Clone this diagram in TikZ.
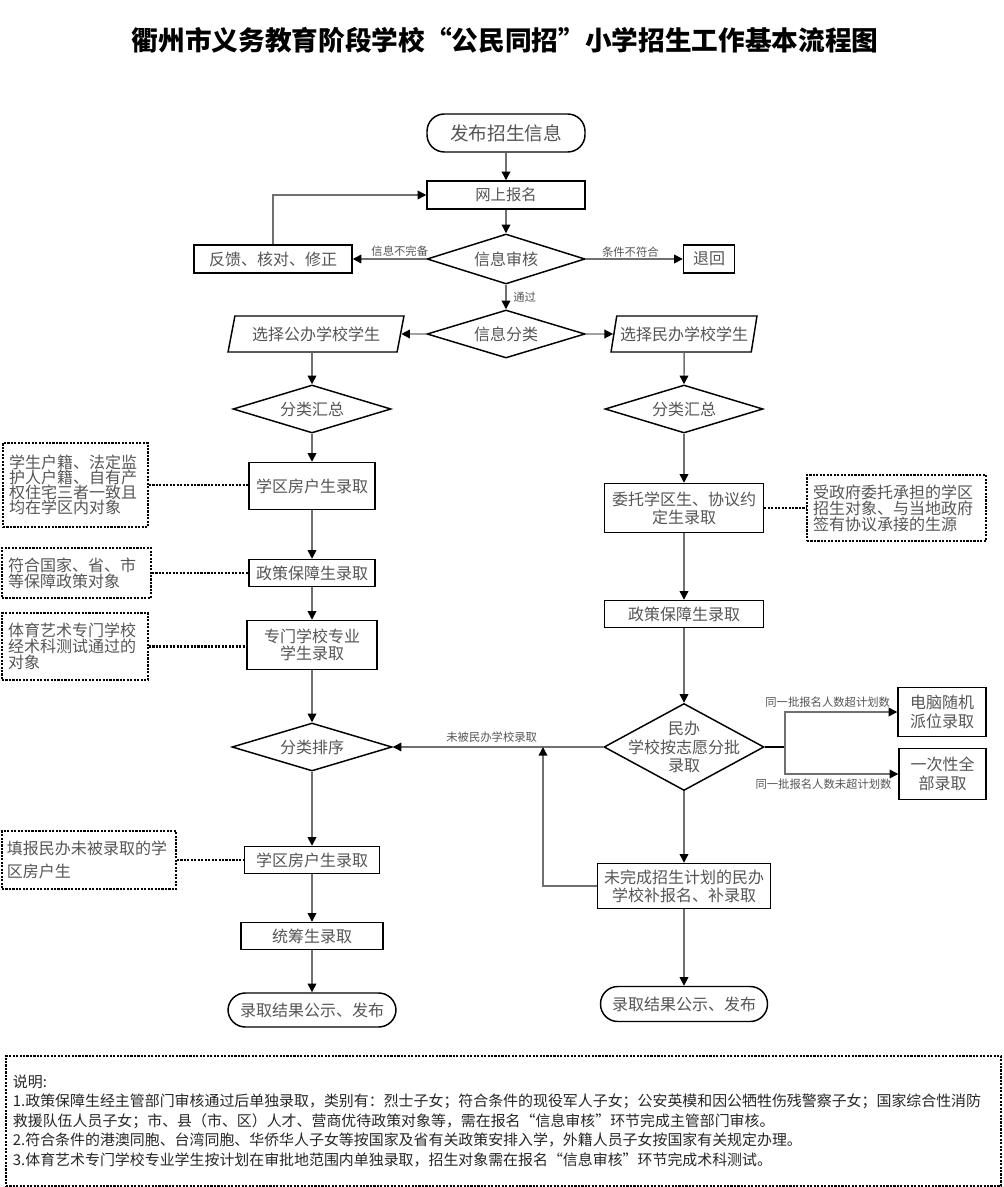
\documentclass[tikz,border=0pt]{standalone}
\usepackage{fontspec}
\setmainfont{Noto Sans CJK SC}
\usetikzlibrary{shapes.geometric,arrows.meta,positioning}
\definecolor{txtgray}{HTML}{555555}
\definecolor{lngray}{HTML}{707070}
\newdimen\pxu \pxu=0.75pt
\tikzset{
  base/.style={font=\fontsize{12}{13.5}\selectfont, text=txtgray, align=center, inner sep=0pt},
  box/.style={base, draw=black, line width=1.1pt, fill=white},
  term/.style={box, rounded corners=13pt},
  dec/.style={base, diamond, aspect=3, draw=black, line width=1.1pt, fill=white},
  io/.style={base, trapezium, trapezium left angle=70, trapezium right angle=110,
    trapezium stretches=true, draw=black, line width=1.1pt, fill=white},
  note/.style={base, draw=black, line width=1.4pt, dash pattern=on 1.6pt off 1pt,
    align=left, inner xsep=6\pxu, text width=#1},
  note/.default=100pt,
  arr/.style={draw=lngray, line width=1.1pt, -{Triangle[length=6.5pt,width=6.5pt,color=black]}},
  link/.style={draw=black, line width=1.6pt, dash pattern=on 1.6pt off 1pt},
  lab/.style={font=\fontsize{8.5}{9}\selectfont, text=txtgray, inner sep=1pt},
}

\begin{document}
\begin{tikzpicture}[x=0.75pt,y=-0.75pt]
\useasboundingbox (0,0) rectangle (1003,1187);

% title
\node[font=\fontsize{20}{22}\selectfont\bfseries] (title) at (505,40)
  {衢州市义务教育阶段学校“公民同招”小学招生工作基本流程图};

% registration and checking
\node[term, minimum width=158\pxu, minimum height=38\pxu, font=\fontsize{14}{16}\selectfont] (pub) at (506,133) {发布招生信息};
\node[box, minimum width=158\pxu, minimum height=28\pxu, font=\fontsize{11.5}{13}\selectfont] (reg) at (506,195) {网上报名};
\node[dec, minimum width=158\pxu, minimum height=50\pxu] (chk) at (506,259) {信息审核};
\node[box, minimum width=158\pxu, minimum height=28\pxu] (fb) at (273,259) {反馈、核对、修正};
\node[box, minimum width=51\pxu, minimum height=28\pxu] (ret) at (709,259) {退回};
\node[dec, minimum width=158\pxu, minimum height=48\pxu] (cls) at (506,334) {信息分类};
\node[io, minimum width=176\pxu, minimum height=36\pxu] (pubsel) at (316,334) {选择公办学校学生};
\node[io, minimum width=146\pxu, minimum height=36\pxu] (prisel) at (684,334) {选择民办学校学生};

\draw[arr] (pub) -- (reg);
\draw[arr] (reg) -- (chk);
\draw[arr] (chk) -- node[lab, above, pos=0.36] {信息不完备} (fb);
\draw[arr] (fb) |- (reg);
\draw[arr] (chk) -- node[lab, above, pos=0.46] {条件不符合} (ret);
\draw[arr] (chk) -- node[lab, right=4pt] {通过} (cls);
\draw[arr] (cls) -- (pubsel);
\draw[arr] (cls) -- (prisel);

% public schools
\node[dec, minimum width=158\pxu, minimum height=48\pxu] (lsum) at (312,409) {分类汇总};
\node[box, minimum width=126\pxu, minimum height=47\pxu] (lhouse) at (312,486) {学区房户生录取};
\node[box, minimum width=126\pxu, minimum height=27\pxu] (lpol) at (312,573) {政策保障生录取};
\node[box, minimum width=130\pxu, minimum height=49\pxu, font=\fontsize{12}{13}\selectfont] (lspec) at (312,645) {专门学校专业\\学生录取};
\node[dec, minimum width=160\pxu, minimum height=48\pxu] (lsort) at (312,747) {分类排序};
\node[box, minimum width=135\pxu, minimum height=27\pxu] (lhouse2) at (312,860) {学区房户生录取};
\node[box, minimum width=142\pxu, minimum height=27\pxu] (lcoord) at (312,936) {统筹生录取};
\node[term, minimum width=168\pxu, minimum height=34\pxu] (lres) at (312,1010) {录取结果公示、发布};

\node[note=133\pxu, minimum height=84\pxu, font=\fontsize{12}{11.3}\selectfont] (n1) at (75.5,485)
  {学生户籍、法定监\\护人户籍、自有产\\权住宅三者一致且\\均在学区内对象};
\node[note=137\pxu, minimum height=50\pxu, font=\fontsize{12}{12}\selectfont] (n2) at (76.5,573)
  {符合国家、省、市\\等保障政策对象};
\node[note=134\pxu, minimum height=67\pxu, font=\fontsize{12}{11}\selectfont] (n3) at (75,646.5)
  {体育艺术专门学校\\经术科测试通过的\\对象};
\node[note=164\pxu, minimum height=58\pxu, inner xsep=5\pxu, font=\fontsize{12}{17}\selectfont] (n4) at (89,860)
  {填报民办未被录取的学\\区房户生};

\draw[arr] (pubsel.south -| lsum.north) -- (lsum);
\draw[arr] (lsum) -- (lhouse);
\draw[arr] (lhouse) -- (lpol);
\draw[arr] (lpol) -- (lspec);
\draw[arr] (lspec) -- (lsort);
\draw[arr] (lsort) -- (lhouse2);
\draw[arr] (lhouse2) -- (lcoord);
\draw[arr] (lcoord) -- (lres);
\draw[link] (n1) -- (n1 -| lhouse.west);
\draw[link] (n2) -- (n2 -| lpol.west);
\draw[link] (n3) -- (n3 -| lspec.west);
\draw[link] (n4) -- (n4 -| lhouse2.west);

% private schools
\node[dec, minimum width=158\pxu, minimum height=48\pxu] (rsum) at (684,409) {分类汇总};
\node[box, minimum width=159\pxu, minimum height=49\pxu, font=\fontsize{12}{13.5}\selectfont] (rent) at (684,508) {委托学区生、协议约\\定生录取};
\node[note=167\pxu, minimum height=66\pxu, font=\fontsize{12}{12}\selectfont] (n5) at (896.5,508)
  {受政府委托承担的学区\\招生对象、与当地政府\\签有协议承接的生源};
\node[box, minimum width=159\pxu, minimum height=27\pxu] (rpol) at (684,614) {政策保障生录取};
\node[dec, minimum width=160\pxu, minimum height=87\pxu] (rbat) at (684,747) {};
\node[base, font=\fontsize{12}{14}\selectfont] (rbattxt) at (rbat) {民办\\学校按志愿分批\\录取};
\node[box, minimum width=88\pxu, minimum height=49\pxu, font=\fontsize{12}{14}\selectfont] (rrand) at (942,712) {电脑随机\\派位录取};
\node[box, minimum width=87\pxu, minimum height=51\pxu, font=\fontsize{12}{14}\selectfont] (rall) at (942.5,774) {一次性全\\部录取};
\node[box, minimum width=173\pxu, minimum height=45\pxu, font=\fontsize{12}{13.5}\selectfont] (rsup) at (684,886) {未完成招生计划的民办\\学校补报名、补录取};
\node[term, minimum width=167\pxu, minimum height=35\pxu] (rres) at (684,1004) {录取结果公示、发布};

\draw[arr] (prisel) -- (rsum);
\draw[arr] (rsum) -- (rent);
\draw[arr] (rent) -- (rpol);
\draw[arr] (rpol) -- (rbat);
\draw[arr] (rbat) -- (rsup);
\draw[arr] (rsup) -- (rres);
\draw[link] (rent) -- (rent -| n5.west);

\draw[arr] (rbat) -- node[lab, above=2pt, pos=0.53] {未被民办学校录取} (lsort);
\coordinate (up) at (543,747);
\draw[arr] (rsup) -| (up);
\coordinate (br) at (785,747);
\draw[line width=1.4pt] (rbat) -- (br);
\draw[arr] (br) |- node[lab, above=2pt, pos=0.69] {同一批报名人数超计划数} (rrand);
\draw[arr] (br) |- node[lab, below=2pt, pos=0.67] {同一批报名人数未超计划数} (rall);

% explanation
\node[base, draw=black, line width=1.4pt, dash pattern=on 1.6pt off 1pt, align=left,
  anchor=north west, text width=981\pxu, inner xsep=7\pxu, minimum height=130\pxu,
  text=black!85, font=\fontsize{11.2}{14.6}\selectfont] (expl) at (5,1055)
  {说明:\\
   1.政策保障生经主管部门审核通过后单独录取，类别有：烈士子女；符合条件的现役军人子女；公安英模和因公牺牲伤残警察子女；国家综合性消防\\
   救援队伍人员子女；市、县（市、区）人才、营商优待政策对象等，需在报名“信息审核”环节完成主管部门审核。\\
   2.符合条件的港澳同胞、台湾同胞、华侨华人子女等按国家及省有关政策安排入学，外籍人员子女按国家有关规定办理。\\
   3.体育艺术专门学校专业学生按计划在审批地范围内单独录取，招生对象需在报名“信息审核”环节完成术科测试。};
\end{tikzpicture}
\end{document}
